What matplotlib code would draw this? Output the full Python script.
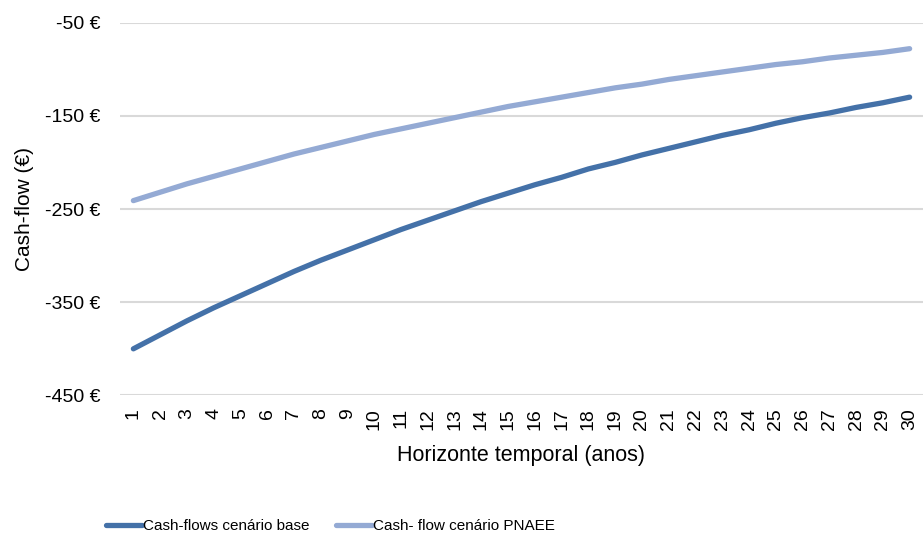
import matplotlib
matplotlib.use("Agg")
import matplotlib.pyplot as plt
from matplotlib.ticker import FuncFormatter

plt.rcParams['font.family'] = ['Liberation Sans Narrow', 'Liberation Sans', 'DejaVu Sans']

# anos do horizonte temporal
anos = list(range(1, 31))

# cash-flows actualizados (EUR)
cf_base = [-400, -385, -370, -356, -343, -330, -317, -305, -294, -283,
           -272, -262, -252, -242, -233, -224, -216, -207, -200, -192,
           -185, -178, -171, -165, -158, -152, -147, -141, -136, -130]
cf_pnaee = [-241, -232, -223, -215, -207, -199, -191, -184, -177, -170,
            -164, -158, -152, -146, -140, -135, -130, -125, -120, -116,
            -111, -107, -103, -99, -95, -92, -88, -85, -82, -78]

y_ticks = [-450, -350, -250, -150, -50]

fig = plt.figure(figsize=(9.23, 5.38), dpi=100)
ax = fig.add_axes([0.130, 0.265, 0.870, 0.693])

ax.plot(anos, cf_base, color='#4471A8', lw=3.8, solid_capstyle='round',
        label='Cash-flows cenário base')
ax.plot(anos, cf_pnaee, color='#94AAD4', lw=3.8, solid_capstyle='round',
        label='Cash- flow cenário PNAEE')

ax.set_xlim(0.5, 30.5)
ax.set_ylim(-450, -50)
ax.set_yticks(y_ticks)
ax.yaxis.set_major_formatter(FuncFormatter(lambda v, p: f'{v:.0f} €'))
ax.set_xticks(anos)
ax.set_xticklabels([str(a) for a in anos], rotation=90)
ax.tick_params(axis='both', length=0, labelsize=14, colors='#000000')
ax.tick_params(axis='y', pad=14)
ax.tick_params(axis='x', pad=9)

ax.grid(axis='y', color='#D9D9D9', lw=1.5)
ax.set_axisbelow(True)
for s in ax.spines.values():
    s.set_visible(False)

ax.set_ylabel('Cash-flow (€)', fontsize=15, labelpad=8)
ax.set_xlabel('Horizonte temporal (anos)', fontsize=15.5, labelpad=11)

fig.legend(loc='center', bbox_to_anchor=(0.358, 0.022), ncol=2, frameon=False,
           fontsize=11, handlelength=2.4, handletextpad=0.05, columnspacing=1.7)

fig.savefig('out.png', dpi=100)
